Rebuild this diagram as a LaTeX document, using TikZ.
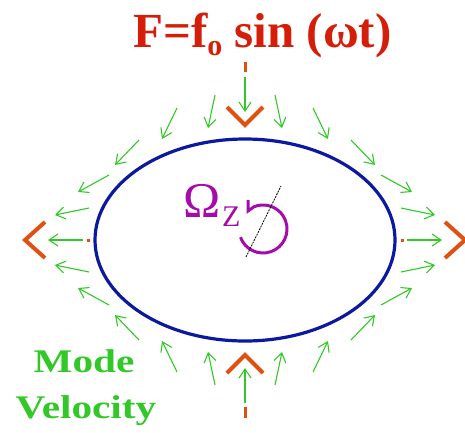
\documentclass[tikz,border=0pt]{standalone}
\usepackage{fontspec}
\setmainfont{Liberation Serif}
\usetikzlibrary{arrows.meta,shapes.geometric}
\definecolor{ttlred}{RGB}{212,30,10}
\definecolor{forceor}{RGB}{224,80,16}
\definecolor{modegreen}{RGB}{50,200,40}
\definecolor{ringblue}{RGB}{10,25,160}
\definecolor{spinmag}{RGB}{165,10,170}
\tikzset{
  garrow/.style={draw=modegreen, line width=1.1pt, -{Straight Barb[length=9pt,width=12pt,line width=1.1pt]}},
  chevron/.style={draw=forceor, line width=4pt, line cap=butt, line join=miter},
  fmark/.style={draw=forceor, line width=3pt},
  ttl/.style={text=ttlred, font=\bfseries\fontsize{49}{49}\selectfont, inner sep=0pt},
  gtxt/.style={text=modegreen, font=\bfseries\fontsize{33}{33}\selectfont, inner sep=0pt},
  mtxt/.style={text=spinmag, inner sep=0pt}
}
\begin{document}
\begin{tikzpicture}[x=1pt,y=-1pt]
\useasboundingbox (0,0) rectangle (465,432);
% ring
\node[draw=ringblue, line width=3.2pt, ellipse, minimum width=300pt, minimum height=202pt, inner sep=0pt] (ring) at (245,240) {};
% green mode velocity arrows
\foreach \ax/\ay/\bx/\by in {215/95/208/128, 177/108/162/139, 139/140/115/165, 109/175/78/192, 89/208/55/215}{
  \draw[garrow] (\ax,\ay) -- (\bx,\by);
  \draw[garrow] ({490-\ax},\ay) -- ({490-\bx},\by);
  \draw[garrow] (\ax,{480-\ay}) -- (\bx,{480-\by});
  \draw[garrow] ({490-\ax},{480-\ay}) -- ({490-\bx},{480-\by});
}
\coordinate (tS) at (245,77);  \coordinate (tE) at (245,112);
\coordinate (bS) at (245,403); \coordinate (bE) at (245,368);
\coordinate (lS) at (83,240);  \coordinate (lE) at (48,240);
\coordinate (rS) at (407,240); \coordinate (rE) at (442,240);
\draw[garrow] (tS) -- (tE);
\draw[garrow] (bS) -- (bE);
\draw[garrow] (lS) -- (lE);
\draw[garrow] (rS) -- (rE);
% orange force chevrons and marks
\draw[chevron] (227,107) -- (245,125) -- (263,107);
\draw[chevron] (227,373) -- (245,355) -- (263,373);
\draw[chevron] (45,222) -- (25,240) -- (45,258);
\draw[chevron] (445,222) -- (465,240) -- (445,258);
\draw[fmark] (245,62) -- (245,72);
\draw[fmark] (245,407) -- (245,418);
\draw[fmark] (86.5,240) -- (89.5,240);
\draw[fmark] (400.5,240) -- (403.5,240);
% title
\node[ttl, anchor=base west] (title) at (133,47) {F=f\raisebox{-8pt}{\fontsize{30}{30}\selectfont o} sin (ωt)};
% mode velocity label
\node[gtxt, anchor=base] (mode) at (84,372) {\scalebox{1.25}[1]{Mode}};
\node[gtxt, anchor=base] (velo) at (86,418) {\scalebox{1.25}[1]{Velocity}};
% rotation
\node[mtxt, anchor=base west, font=\fontsize{50}{50}\selectfont] (omega) at (183,217) {Ω};
\node[mtxt, anchor=base west, font=\fontsize{30}{30}\selectfont] (zsub) at (222,226) {Z};
\coordinate (rc) at (263,229);
\draw[spinmag, line width=3pt] ([shift={(160:24)}]rc) arc[start angle=160, end angle=-112, radius=24] -- (248,211) -- (248,200);
\coordinate (axA) at (246,257);
\coordinate (axB) at (281,186);
\draw[black, line width=0.8pt, dash pattern=on 2pt off 1pt] (axA) -- (axB);
\end{tikzpicture}
\end{document}
